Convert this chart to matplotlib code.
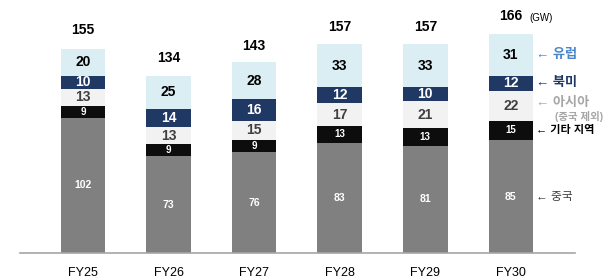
import matplotlib
matplotlib.use("Agg")
import matplotlib.pyplot as plt

plt.rcParams['font.family'] = ['Liberation Sans', 'Noto Sans CJK KR', 'DejaVu Sans']

years = ["FY25", "FY26", "FY27", "FY28", "FY29", "FY30"]
china = [102, 73, 76, 83, 81, 85]
other = [9, 9, 9, 13, 13, 15]
asia = [13, 13, 15, 17, 21, 22]
north_america = [10, 14, 16, 12, 10, 12]
europe = [20, 25, 28, 33, 33, 31]
totals = [155, 134, 143, 157, 157, 166]

series = [
    ("중국", china, "#808080", "white", 7.5),
    ("기타 지역", other, "#0d0d0d", "white", 7),
    ("아시아", asia, "#f2f2f2", "#404040", 10),
    ("북미", north_america, "#1f3864", "white", 10),
    ("유럽", europe, "#dbeef4", "black", 10),
]

fig = plt.figure(figsize=(6.12, 2.8), dpi=100)
ax = fig.add_axes([20/612, 27/280, (575-20)/612, 253/280])

x = list(range(len(years)))
width = 0.52
bottoms = [0]*len(years)
for name, vals, color, tcolor, fs in series:
    ax.bar(x, vals, width, bottom=bottoms, color=color, edgecolor='none', zorder=2)
    for i, v in enumerate(vals):
        ax.text(i, bottoms[i] + v/2, str(v), ha='center', va='center',
                color=tcolor, fontsize=fs, fontweight='bold', zorder=3)
    bottoms = [b + v for b, v in zip(bottoms, vals)]

for i, t in enumerate(totals):
    ax.text(i, t + 8, str(t), ha='center', va='bottom', fontsize=10, fontweight='bold', color='black')

ax.text(5 + 0.22, totals[5] + 8, "(GW)", ha='left', va='bottom', fontsize=7, color='black')

# Right-side annotations
last = len(years) - 1
cum = 0
mids = {}
for name, vals, *_ in series:
    mids[name] = cum + vals[last]/2
    cum += vals[last]

xa = last + width/2 + 0.04
ax.text(xa, mids["유럽"], "← 유럽", ha='left', va='center', fontsize=9.5, fontweight='bold', color='#4a86c8')
ax.text(xa, mids["북미"], "← 북미", ha='left', va='center', fontsize=9.5, fontweight='bold', color='#1f3864')
ax.text(xa, mids["아시아"] + 2.5, "← 아시아", ha='left', va='center', fontsize=9.5, fontweight='bold', color='#a6a6a6')
ax.text(xa + 0.22, mids["아시아"] - 8, "(중국 제외)", ha='left', va='center', fontsize=7.5, fontweight='bold', color='#a6a6a6')
ax.text(xa, mids["기타 지역"], "← 기타 지역", ha='left', va='center', fontsize=8, fontweight='bold', color='black')
ax.text(xa, mids["중국"], "← 중국", ha='left', va='center', fontsize=8.5, color='#404040')

ax.set_xlim(-0.736, 5.75)
ax.set_ylim(0, 191)
ax.set_xticks(x)
ax.set_xticklabels(years, fontsize=9)
ax.tick_params(axis='x', length=0, pad=10)
ax.set_yticks([])
for s in ['top', 'right', 'left']:
    ax.spines[s].set_visible(False)
ax.spines['bottom'].set_color('#a6a6a6')
ax.spines['bottom'].set_linewidth(1.2)

fig.savefig("out.png", dpi=100)
